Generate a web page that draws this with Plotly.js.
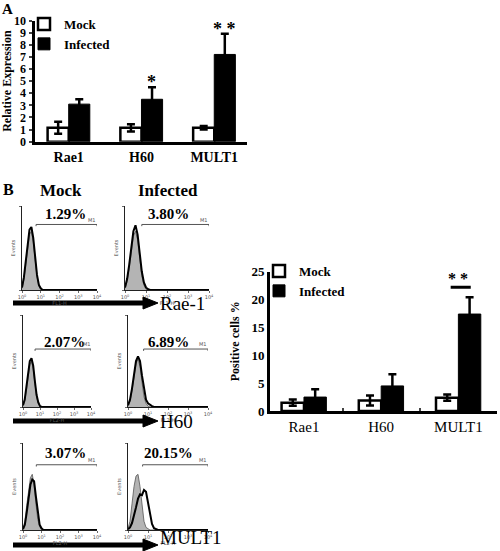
<!DOCTYPE html>
<html><head><meta charset="utf-8">
<script src="https://cdn.plot.ly/plotly-3.0.1.min.js"></script>
<style>html,body{margin:0;padding:0;background:#fff}</style>
</head><body><div id="chart" style="width:500px;height:551px"></div>
<script>
// ---------- Panel A: qPCR relative expression ----------
const genes = ['Rae1', 'H60', 'MULT1'];
const mockA = [1.15, 1.15, 1.15];
const mockAErr = [0.5, 0.3, 0.15];
const infA = [3.1, 3.5, 7.2];
const infAErr = [0.4, 1.0, 1.7];
const starsA = ['', '*', '* *'];

// ---------- Panel B: positive cells % ----------
const mockB = [1.5, 1.9, 2.4];
const mockBErr = [0.55, 0.9, 0.55];
const infB = [2.5, 4.5, 17.4];
const infBErr = [1.4, 2.1, 3.0];
const starsB = ['', '', '* *'];

// ---------- Panel B: flow cytometry histograms ----------
const flowMarkers = ['Rae-1', 'H60', 'MULT1'];
const flowChannels = ['FL1-H', 'FL2-H', 'FL2-H'];
const flowConditions = ['Mock', 'Infected'];
const flowPercents = [['1.29%', '3.80%'], ['2.07%', '6.89%'], ['3.07%', '20.15%']];
const logGrid = [0, 0.1, 0.2, 0.3, 0.4, 0.5, 0.6, 0.7, 0.8, 0.9, 1.0, 1.1, 1.2, 1.3, 1.5, 4.0];
const isoRae1Mock = [2, 12, 30, 52, 66, 70, 58, 36, 16, 5, 1, 0, 0, 0, 0, 0];
const stnRae1Mock = [3, 15, 34, 56, 72, 75, 62, 40, 18, 6, 2, 0, 0, 0, 0, 0];
const isoRae1Inf  = [2, 10, 26, 48, 64, 70, 60, 38, 17, 6, 1, 0, 0, 0, 0, 0];
const stnRae1Inf  = [3, 13, 30, 52, 70, 77, 66, 44, 22, 9, 3, 1, 0, 0, 0, 0];
const isoH60Mock  = [1, 6, 18, 34, 46, 50, 42, 26, 11, 4, 1, 0, 0, 0, 0, 0];
const stnH60Mock  = [2, 8, 22, 38, 50, 53, 45, 28, 13, 5, 1, 0, 0, 0, 0, 0];
const isoH60Inf   = [1, 6, 18, 34, 47, 52, 44, 27, 11, 4, 1, 0, 0, 0, 0, 0];
const stnH60Inf   = [2, 8, 20, 36, 50, 55, 50, 34, 18, 8, 4, 2, 1, 0, 0, 0];
const isoMULT1Mock = [2, 10, 28, 48, 60, 64, 52, 30, 12, 4, 1, 0, 0, 0, 0, 0];
const stnMULT1Mock = [1, 6, 20, 38, 52, 58, 56, 38, 18, 6, 2, 0, 0, 0, 0, 0];
const isoMULT1Inf  = [2, 10, 30, 50, 62, 64, 50, 28, 10, 3, 1, 0, 0, 0, 0, 0];
const stnMULT1Inf  = [1, 3, 8, 16, 26, 36, 41, 40, 46, 44, 32, 18, 7, 2, 0, 0];
const isoSeries = [[isoRae1Mock, isoRae1Inf], [isoH60Mock, isoH60Inf], [isoMULT1Mock, isoMULT1Inf]];
const stnSeries = [[stnRae1Mock, stnRae1Inf], [stnH60Mock, stnH60Inf], [stnMULT1Mock, stnMULT1Inf]];
const gateStart = [[0.75, 0.8], [0.71, 0.78], [0.72, 0.73]];
const gateEnd = 4;
const gateLevel = [78, 63, 75];
const decadeTicks = [0, 1, 2, 3, 4];
const decadeLabels = ['10<sup>0</sup>', '10<sup>1</sup>', '10<sup>2</sup>', '10<sup>3</sup>', '10<sup>4</sup>'];

// ---------- helpers ----------
const W = 500, H = 551;
const PX = p => p / W;
const PY = p => 1 - p / H;
const SERIF = 'Liberation Serif';
const TINY = {family: 'DejaVu Sans', size: 5, color: '#555'};

const traces = [];
const errStyle = (arr) => ({type: 'data', array: arr, visible: true, color: '#000', thickness: 2.5, width: 4});

traces.push({type: 'bar', x: genes, y: mockA, name: 'Mock', xaxis: 'x', yaxis: 'y', legend: 'legend',
  marker: {color: '#fff', line: {color: '#000', width: 2.5}}, error_y: errStyle(mockAErr), hoverinfo: 'skip'});
traces.push({type: 'bar', x: genes, y: infA, name: 'Infected', xaxis: 'x', yaxis: 'y', legend: 'legend',
  marker: {color: '#000', line: {color: '#000', width: 1}}, error_y: errStyle(infAErr), hoverinfo: 'skip'});
traces.push({type: 'bar', x: genes, y: mockB, name: 'Mock', xaxis: 'x2', yaxis: 'y2', legend: 'legend2',
  marker: {color: '#fff', line: {color: '#000', width: 2.5}}, error_y: errStyle(mockBErr), hoverinfo: 'skip'});
traces.push({type: 'bar', x: genes, y: infB, name: 'Infected', xaxis: 'x2', yaxis: 'y2', legend: 'legend2',
  marker: {color: '#000', line: {color: '#000', width: 1}}, error_y: errStyle(infBErr), hoverinfo: 'skip'});

// histogram panel geometry (pixels): [left, right] per column per row, [top, bottom] per row
const panelX = [[[22, 97], [125, 209]], [[23, 91], [128, 208]], [[23, 97], [128, 208]]];
const panelY = [[206, 290], [315, 407], [443, 530]];
const pctLabelX = [[2.3, 2.05], [2.45, 2.0], [2.3, 2.0]];
const pctLabelY = [91, 71, 89];

const layout = {
  width: W, height: H,
  margin: {l: 0, r: 0, t: 0, b: 0},
  paper_bgcolor: '#fff', plot_bgcolor: 'rgba(0,0,0,0)',
  font: {family: SERIF, color: '#000'},
  barmode: 'group', bargap: 0.42, bargroupgap: 0,
  showlegend: true,
  legend: {x: PX(24), y: PY(9), xanchor: 'left', yanchor: 'top', bgcolor: 'rgba(0,0,0,0)',
    font: {family: SERIF, size: 13, weight: 'bold'}, itemwidth: 30, tracegroupgap: 0},
  legend2: {x: PX(259), y: PY(256), xanchor: 'left', yanchor: 'top', bgcolor: 'rgba(0,0,0,0)',
    font: {family: SERIF, size: 13, weight: 'bold'}, itemwidth: 30, tracegroupgap: 0},
  xaxis: {domain: [PX(34.5), PX(247)], anchor: 'y', type: 'category', range: [-0.47, 2.45],
    showline: true, linewidth: 3, linecolor: '#000', ticks: '', fixedrange: true,
    tickfont: {family: SERIF, size: 14, weight: 'bold'}},
  yaxis: {domain: [PY(141.7), PY(20.5)], anchor: 'x', range: [0, 10], dtick: 1, tick0: 0,
    showline: true, linewidth: 3, linecolor: '#000', ticks: 'outside', ticklen: 3, tickwidth: 2,
    showgrid: false, zeroline: false, tickfont: {family: SERIF, size: 12, weight: 'bold'},
    title: {text: 'Relative Expression', font: {family: SERIF, size: 12, weight: 'bold'}, standoff: 5}},
  xaxis2: {domain: [PX(270), PX(497)], anchor: 'y2', type: 'category', range: [-0.44, 2.5],
    showline: true, linewidth: 3, linecolor: '#000', ticks: 'inside', tickson: 'boundaries', ticklen: 3, tickwidth: 2,
    tickfont: {family: SERIF, size: 15}},
  yaxis2: {domain: [PY(411), PY(271.7)], anchor: 'x2', range: [0, 25], dtick: 5, tick0: 0,
    showline: true, linewidth: 3, linecolor: '#000', ticks: '', showgrid: false, zeroline: false,
    tickfont: {family: SERIF, size: 13, weight: 'bold'},
    title: {text: 'Positive cells %', font: {family: SERIF, size: 12, weight: 'bold'}, standoff: 10}},
  annotations: [],
  shapes: []
};

// star annotations panel A / B
genes.forEach((g, i) => {
  if (starsA[i]) layout.annotations.push({xref: 'x', yref: 'y', x: g, y: infA[i] + infAErr[i], xshift: 10,
    text: starsA[i], showarrow: false, yanchor: 'bottom', yshift: -7, font: {family: SERIF, size: 18, weight: 'bold'}});
  if (starsB[i]) layout.annotations.push({xref: 'x2', yref: 'y2', x: g, y: infB[i] + infBErr[i], xshift: 0,
    text: starsB[i], showarrow: false, yanchor: 'bottom', yshift: 8, font: {family: SERIF, size: 16, weight: 'bold'}});
});
// significance bar over MULT1 (panel B)
layout.shapes.push({type: 'line', xref: 'x2', yref: 'y2', x0: 1.9, x1: 2.16, y0: 22.2, y1: 22.2,
  line: {color: '#000', width: 3}});

// panel letters and column headers
layout.annotations.push({xref: 'paper', yref: 'paper', x: PX(0), y: PY(9), xanchor: 'left', yanchor: 'middle', text: 'A',
  showarrow: false, font: {family: SERIF, size: 15, weight: 'bold'}});
layout.annotations.push({xref: 'paper', yref: 'paper', x: PX(1), y: PY(189), xanchor: 'left', yanchor: 'middle', text: 'B',
  showarrow: false, font: {family: SERIF, size: 16, weight: 'bold'}});
flowConditions.forEach((c, j) => {
  layout.annotations.push({xref: 'paper', yref: 'paper', x: PX(j === 0 ? 61 : 168), y: PY(190), xanchor: 'center',
    yanchor: 'middle', text: c, showarrow: false, font: {family: SERIF, size: 17, weight: 'bold'}});
});

// histogram subplots
let ax = 3;
flowMarkers.forEach((m, r) => {
  [0, 1].forEach(c => {
    const xa = 'x' + ax, ya = 'y' + ax;
    traces.push({type: 'scatter', mode: 'lines', x: logGrid, y: isoSeries[r][c], xaxis: xa, yaxis: ya,
      fill: 'tozeroy', fillcolor: '#b4b4b4', line: {color: '#555', width: 0.8}, showlegend: false, hoverinfo: 'skip'});
    traces.push({type: 'scatter', mode: 'lines', x: logGrid, y: stnSeries[r][c], xaxis: xa, yaxis: ya,
      line: {color: '#000', width: 2}, showlegend: false, hoverinfo: 'skip'});
    const g0 = gateStart[r][c], gl = gateLevel[r];
    traces.push({type: 'scatter', mode: 'lines', x: [g0, g0, gateEnd, gateEnd], y: [gl - 2, gl, gl, gl - 2],
      xaxis: xa, yaxis: ya, line: {color: '#555', width: 1}, showlegend: false, hoverinfo: 'skip'});
    layout['xaxis' + ax] = {domain: [PX(panelX[r][c][0]), PX(panelX[r][c][1])], anchor: ya, range: [0, 4],
      showline: true, linewidth: 1, linecolor: '#222', showgrid: false, zeroline: false,
      ticks: 'outside', ticklen: 2, tickwidth: 0.8, tickcolor: '#444', tickvals: decadeTicks, ticktext: decadeLabels,
      tickfont: TINY, title: {text: flowChannels[r], font: TINY, standoff: 1}};
    layout['yaxis' + ax] = {domain: [PY(panelY[r][1]), PY(panelY[r][0])], anchor: xa, range: [0, 100],
      showline: true, linewidth: 1, linecolor: '#222', showgrid: false, zeroline: false,
      ticks: 'outside', ticklen: 2, tickwidth: 0.8, tickcolor: '#444', tickvals: [0, 100], showticklabels: false,
      title: {text: 'Events', font: TINY, standoff: 3}};
    layout.annotations.push({xref: xa, yref: ya, x: pctLabelX[r][c], y: pctLabelY[r], text: flowPercents[r][c],
      showarrow: false, font: {family: SERIF, size: 15, weight: 'bold'}});
    layout.annotations.push({xref: xa, yref: ya, x: 3.75, y: gateLevel[r] + 5, text: 'M1',
      showarrow: false, font: TINY});
    ax++;
  });
  // marker arrow below each row
  const ay = [303, 421, 545][r];
  layout.shapes.push({type: 'line', xref: 'paper', yref: 'paper', x0: PX(13), x1: PX(146), y0: PY(ay), y1: PY(ay),
    line: {color: '#000', width: 5}});
  layout.shapes.push({type: 'path', xref: 'paper', yref: 'paper',
    path: `M ${PX(143)} ${PY(ay - 6)} L ${PX(158)} ${PY(ay)} L ${PX(143)} ${PY(ay + 6)} Z`,
    fillcolor: '#000', line: {color: '#000', width: 1}});
  const last = r === flowMarkers.length - 1;
  layout.annotations.push({xref: 'paper', yref: 'paper', x: PX(158), y: last ? PY(550) : PY(ay),
    xanchor: 'left', yanchor: last ? 'bottom' : 'middle',
    text: m, showarrow: false, font: {family: SERIF, size: 19}});
});

Plotly.newPlot('chart', traces, layout, {staticPlot: true, displayModeBar: false});
</script>
</body></html>
